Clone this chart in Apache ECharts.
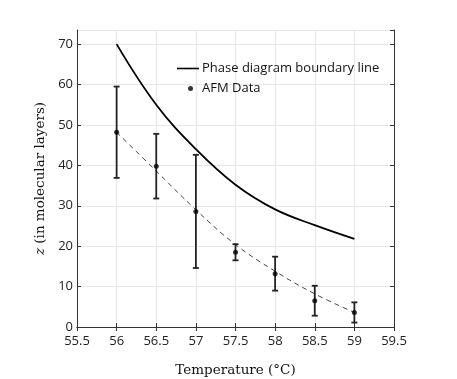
<!DOCTYPE html>
<html>
<head>
<meta charset="UTF-8">
<script src="https://cdn.jsdelivr.net/npm/echarts@6/dist/echarts.min.js"></script>
</head>
<body style="margin:0;background:#fff">
<div id="main" style="width:457px;height:379px;"></div>
<script>
// phase boundary line
var boundaryT = [56, 56.5, 57, 57.5, 58, 58.5, 59];
var boundaryZ = [70, 55, 44, 35.2, 29.1, 25.2, 21.8];
// AFM measurements with error bars
var afmT = [56, 56.5, 57, 57.5, 58, 58.5, 59];
var afmZ = [48.2, 39.8, 28.6, 18.5, 13.2, 6.5, 3.6];
var afmErr = [11.3, 8, 14, 2, 4.2, 3.7, 2.5];
// dashed fit through the AFM data
var fitZ = [48.2, 38.6, 29.0, 20.4, 13.8, 8.2, 3.6];
var xTicks = [55.5, 59.5, 0.5];
var yTicks = [0, 73.5, 10];

var axisCol = '#333';
var sans = '"Open Sans", "Noto Sans", sans-serif';
var serif = '"DejaVu Serif", "Liberation Serif", serif';

var myChart = echarts.init(document.getElementById('main'));

function pairs(xs, ys) {
    return xs.map(function (x, i) { return [x, ys[i]]; });
}

var option = {
    animation: false,
    grid: { left: 77, right: 63, top: 30, bottom: 52, outerBoundsMode: 'none' },
    legend: [
        {
            data: ['Phase diagram boundary line'],
            left: 177, top: 62, padding: 0,
            icon: 'rect', itemWidth: 22, itemHeight: 1.6,
            textStyle: { fontFamily: sans, fontSize: 13, color: '#111', padding: [0, 0, 0, -2] },
            itemStyle: { color: '#000' }
        },
        {
            data: ['AFM Data'],
            left: 188, top: 82, padding: 0,
            icon: 'circle', itemWidth: 5, itemHeight: 5,
            textStyle: { fontFamily: sans, fontSize: 13, color: '#111', padding: [0, 0, 0, 4] }
        }
    ],
    xAxis: [
        {
            type: 'value', min: xTicks[0], max: xTicks[1], interval: xTicks[2],
            name: 'Temperature (°C)', nameLocation: 'middle', nameGap: 36,
            nameTextStyle: { fontFamily: serif, fontSize: 13.5, color: '#111' },
            axisLine: { show: true, lineStyle: { color: axisCol, width: 1 } },
            axisTick: { show: true, inside: true, length: 4, lineStyle: { color: axisCol } },
            axisLabel: { fontFamily: sans, fontSize: 13, color: '#222', margin: 8 },
            splitLine: { show: true, lineStyle: { color: '#e6e6e6', width: 1 } }
        },
        {
            type: 'value', min: xTicks[0], max: xTicks[1], interval: xTicks[2],
            position: 'top',
            axisLine: { show: true, lineStyle: { color: axisCol, width: 1 } },
            axisTick: { show: true, inside: true, length: 4, lineStyle: { color: axisCol } },
            axisLabel: { show: false },
            splitLine: { show: false }
        }
    ],
    yAxis: [
        {
            type: 'value', min: yTicks[0], max: yTicks[1], interval: yTicks[2],
            name: '{i|z} (in molecular layers)', nameLocation: 'middle', nameGap: 28,
            nameTextStyle: {
                fontFamily: serif, fontSize: 13.5, color: '#111',
                rich: { i: { fontFamily: serif, fontStyle: 'italic', fontSize: 13.5, color: '#111' } }
            },
            axisLine: { show: true, lineStyle: { color: axisCol, width: 1 } },
            axisTick: { show: true, inside: true, length: 4, lineStyle: { color: axisCol } },
            axisLabel: { fontFamily: sans, fontSize: 13, color: '#222', margin: 4, showMaxLabel: false },
            splitLine: { show: true, lineStyle: { color: '#e6e6e6', width: 1 } }
        },
        {
            type: 'value', min: yTicks[0], max: yTicks[1], interval: yTicks[2],
            position: 'right',
            axisLine: { show: true, lineStyle: { color: axisCol, width: 1 } },
            axisTick: { show: true, inside: true, length: 4, lineStyle: { color: axisCol } },
            axisLabel: { show: false },
            splitLine: { show: false }
        }
    ],
    series: [
        {
            name: 'Phase diagram boundary line',
            type: 'line',
            data: pairs(boundaryT, boundaryZ),
            smooth: 0.4,
            showSymbol: false,
            lineStyle: { color: '#000', width: 1.8 },
            itemStyle: { color: '#000' },
            z: 3
        },
        {
            name: 'fit',
            type: 'line',
            data: pairs(afmT, fitZ),
            smooth: 0.4,
            showSymbol: false,
            lineStyle: { color: '#444', width: 1, type: [5, 4] },
            z: 2
        },
        {
            name: 'errors',
            type: 'custom',
            data: afmT.map(function (t, i) { return [t, afmZ[i] - afmErr[i], afmZ[i] + afmErr[i]]; }),
            renderItem: function (params, api) {
                var lo = api.coord([api.value(0), api.value(1)]);
                var hi = api.coord([api.value(0), api.value(2)]);
                var w = 3;
                var st = { stroke: '#222', lineWidth: 1.8 };
                return {
                    type: 'group',
                    children: [
                        { type: 'line', shape: { x1: lo[0], y1: lo[1], x2: hi[0], y2: hi[1] }, style: st },
                        { type: 'line', shape: { x1: lo[0] - w, y1: lo[1], x2: lo[0] + w, y2: lo[1] }, style: st },
                        { type: 'line', shape: { x1: hi[0] - w, y1: hi[1], x2: hi[0] + w, y2: hi[1] }, style: st }
                    ]
                };
            },
            z: 4
        },
        {
            name: 'AFM Data',
            type: 'scatter',
            data: pairs(afmT, afmZ),
            symbol: 'circle',
            symbolSize: 5,
            itemStyle: { color: '#000' },
            z: 5
        }
    ]
};

myChart.setOption(option);
</script>
</body>
</html>
